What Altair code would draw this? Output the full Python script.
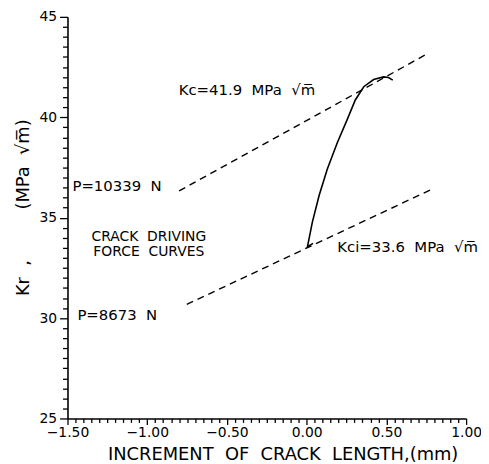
import altair as alt
import pandas as pd
import numpy as np

SP = "\u00a0"  # non-breaking space keeps the wide gaps of the original lettering

# ---- data ----
# measured R-curve (solid)
curve_dx = [0.04, 0.005, 0.036, 0.078, 0.129, 0.192, 0.254, 0.305, 0.358, 0.420, 0.482, 0.513, 0.540]
curve_kr = [33.72, 33.56, 34.79, 36.10, 37.41, 38.73, 39.88, 40.86, 41.52, 41.88, 42.01, 41.98, 41.85]

# crack driving force curves (dashed)
upper_dx = [-0.80, 0.768]
upper_kr = [36.33, 43.21]
lower_dx = [-0.752, 0.797]
lower_kr = [30.68, 36.46]

# annotations
left_texts = [
    f"P=10339{SP*2}N",
    f"P=8673{SP*2}N",
    f"Kc=41.9{SP*2}MPa{SP*2}√m̅",
    f"Kci=33.6{SP*2}MPa{SP*2}√m̅",
]
left_x = [-1.469, -1.438, -0.803, 0.192]
left_y = [36.56, 30.14, 41.35, 33.54]

center_texts = [f"CRACK{SP*2}DRIVING", f"FORCE{SP*2}CURVES"]
center_x = [-0.99, -0.99]
center_y = [34.04, 33.30]

ytitle_texts = [f"Kr{SP*2},", f"(MPa{SP*2}√m̅)"]
ytitle_x = [-1.774, -1.774]
ytitle_y = [31.99, 37.65]

x_title = f"INCREMENT{SP*2}OF{SP*2}CRACK{SP*2}LENGTH,(mm)"

x_major = [-1.5, -1.0, -0.5, 0.0, 0.5, 1.0]
y_major = [25, 30, 35, 40, 45]
x_ticks = [round(-1.5 + 0.05 * i, 2) for i in range(51)]
y_ticks = [round(25 + 0.5 * i, 1) for i in range(41)]

FONT = "DejaVu Sans"

curve_df = pd.DataFrame({"dx": curve_dx, "kr": curve_kr, "order": range(len(curve_dx))})
lines_df = pd.DataFrame({
    "dx": upper_dx + lower_dx,
    "kr": upper_kr + lower_kr,
    "line": ["upper"] * 2 + ["lower"] * 2,
})
left_df = pd.DataFrame({"t": left_texts, "dx": left_x, "kr": left_y})
center_df = pd.DataFrame({"t": center_texts, "dx": center_x, "kr": center_y})
ytitle_df = pd.DataFrame({"t": ytitle_texts, "dx": ytitle_x, "kr": ytitle_y})

xmaj_test = "abs(datum.value*2 - round(datum.value*2)) < 0.001"
ymaj_test = "abs(datum.value/5 - round(datum.value/5)) < 0.001"

xscale = alt.Scale(domain=[-1.5, 1.0], nice=False, zero=False)
yscale = alt.Scale(domain=[25, 45], nice=False, zero=False)

xaxis = alt.Axis(
    values=x_ticks,
    labelExpr=f"{xmaj_test} ? format(datum.value, '.2f') : ''",
    tickSize={"condition": {"test": xmaj_test, "value": 6}, "value": 4},
    labelOverlap=False,
    labelFlush=False,
    labelPadding=1,
    labelFontSize=14,
    labelFont=FONT,
    labelColor="black",
    title=x_title,
    titleFont=FONT,
    titleFontSize=18,
    titleFontWeight="normal",
    titleColor="black",
    titleBaseline="alphabetic",
    titleY=41,
    titleX=217,
    grid=False,
)
yaxis = alt.Axis(
    values=y_ticks,
    labelExpr=f"{ymaj_test} ? format(datum.value, 'd') : ''",
    tickSize={"condition": {"test": ymaj_test, "value": 8}, "value": 5},
    labelOverlap=False,
    labelFlush=False,
    labelPadding=3,
    labelFontSize=14,
    labelFont=FONT,
    labelColor="black",
    title=None,
    grid=False,
)

X = alt.X("dx:Q", scale=xscale, axis=xaxis)
Y = alt.Y("kr:Q", scale=yscale, axis=yaxis)

dashed = alt.Chart(lines_df).mark_line(
    color="black", strokeWidth=1.4, strokeDash=[7, 5], clip=False
).encode(x=X, y=Y, detail="line:N")

curve = alt.Chart(curve_df).mark_line(
    color="black", strokeWidth=1.6, clip=False
).encode(x=X, y=Y, order="order:Q")

left_txt = alt.Chart(left_df).mark_text(
    align="left", baseline="middle", font=FONT, fontSize=15, color="black"
).encode(x=X, y=Y, text="t:N")

center_txt = alt.Chart(center_df).mark_text(
    align="center", baseline="middle", font=FONT, fontSize=14, color="black"
).encode(x=X, y=Y, text="t:N")

ytitle_txt = alt.Chart(ytitle_df).mark_text(
    align="center", baseline="middle", font=FONT, fontSize=18, color="black", angle=270
).encode(x=X, y=Y, text="t:N")

chart = alt.layer(dashed, curve, left_txt, center_txt, ytitle_txt).properties(
    width=402,
    height=405,
    autosize=alt.AutoSizeParams(type="none"),
    padding={"left": 60, "top": 7, "right": 15, "bottom": 44},
).configure_view(stroke=None).configure_axis(
    domainColor="black", domainWidth=1.6, tickColor="black", tickWidth=1.3
)

chart.save("out.html", embed_options={"renderer": "svg", "actions": False})
